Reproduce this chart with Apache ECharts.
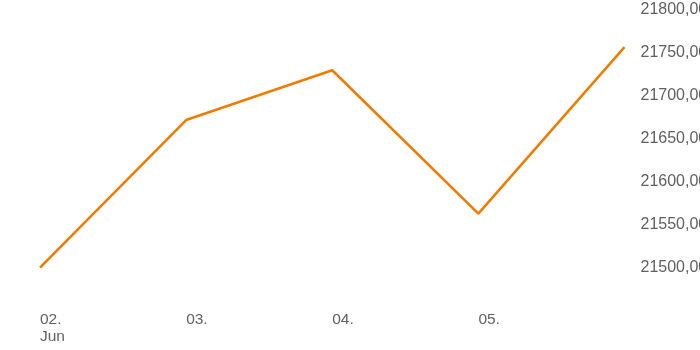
<!DOCTYPE html>
<html>
<head>
<meta charset="utf-8">
<script src="https://cdn.jsdelivr.net/npm/echarts@6/dist/echarts.min.js"></script>
<style>
html,body{margin:0;padding:0;background:#fff;}
#c{width:700px;height:350px;}
</style>
</head>
<body>
<div id="c"></div>
<script>
var categories = ['02.06.', '03.06.', '04.06.', '05.06.', '06.06.'];
var tickLabels = ['02.\nJun', '03.', '04.', '05.', ''];
var values = [21499.5, 21671.5, 21729.5, 21562.5, 21756.5];
var yMin = 21500, yMax = 21800, yStep = 50;

var chart = echarts.init(document.getElementById('c'), null, {renderer: 'canvas'});
chart.setOption({
  animation: false,
  backgroundColor: '#ffffff',
  grid: {left: 40, right: 75.5, top: 9.7, bottom: 82.7, containLabel: false, outerBoundsMode: 'none'},
  xAxis: {
    type: 'category',
    data: categories,
    boundaryGap: false,
    axisLine: {show: false},
    axisTick: {show: false},
    splitLine: {show: false},
    axisLabel: {
      interval: 0,
      align: 'left',
      margin: 44,
      fontFamily: 'Liberation Sans, Arial, sans-serif',
      fontSize: 15.5,
      lineHeight: 17,
      color: '#606060',
      formatter: function (v, i) { return tickLabels[i]; }
    }
  },
  yAxis: {
    type: 'value',
    position: 'right',
    min: yMin,
    max: yMax,
    interval: yStep,
    axisLine: {show: false},
    axisTick: {show: false},
    splitLine: {show: false},
    axisLabel: {
      margin: 16,
      fontFamily: 'Liberation Sans, Arial, sans-serif',
      fontSize: 16,
      color: '#606060',
      hideOverlap: false,
      formatter: function (v) { return v.toFixed(2).replace('.', ','); }
    }
  },
  series: [{
    type: 'line',
    data: values,
    showSymbol: false,
    symbol: 'none',
    lineStyle: {color: '#ef7b00', width: 2.5},
    itemStyle: {color: '#ef7b00'},
    clip: true
  }]
});
</script>
</body>
</html>
